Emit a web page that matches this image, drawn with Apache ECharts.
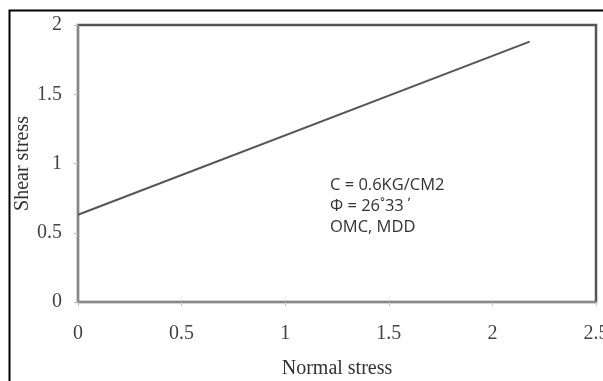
<!DOCTYPE html>
<html><head><meta charset="utf-8">
<script src="https://cdn.jsdelivr.net/npm/echarts@6/dist/echarts.min.js"></script>
<style>html,body{margin:0;padding:0;background:#fff}#c{width:603px;height:381px}</style>
</head><body><div id="c"></div>
<script>
const normalStress = [0, 2.18];
const shearStress = [0.63, 1.88];
const xTicks = [0, 0.5, 1, 1.5, 2, 2.5];
const yTicks = [0, 0.5, 1, 1.5, 2];
const noteLines = ['C = 0.6KG/CM2', 'Φ = 26˚33΄', 'OMC, MDD'];

const chart = echarts.init(document.getElementById('c'), null, {renderer: 'canvas'});
const serif = '"Liberation Serif", "DejaVu Serif", serif';
chart.setOption({
  animation: false,
  backgroundColor: '#fff',
  grid: {left: 78, right: 7, top: 25, bottom: 79, show: true, borderColor: '#555', borderWidth: 2.5,
         outerBoundsMode: 'none', containLabel: false},
  xAxis: {
    type: 'value', min: xTicks[0], max: xTicks[xTicks.length-1], interval: 0.5,
    name: 'Normal stress', nameLocation: 'middle', nameGap: 57, nameMoveOverlap: false,
    nameTextStyle: {fontFamily: serif, fontSize: 20, color: '#333'},
    axisLine: {show: true, lineStyle: {color: '#888', width: 2}},
    axisTick: {show: true, length: 4, lineStyle: {color: '#bbb'}},
    axisLabel: {fontFamily: serif, fontSize: 20, color: '#444', margin: 22, showMaxLabel: true},
    splitLine: {show: false}
  },
  yAxis: {
    type: 'value', min: yTicks[0], max: yTicks[yTicks.length-1], interval: 0.5,
    name: 'Shear stress', nameLocation: 'middle', nameGap: 45, nameRotate: 90, nameMoveOverlap: false,
    nameTextStyle: {fontFamily: serif, fontSize: 20, color: '#333'},
    axisLine: {show: true, lineStyle: {color: '#888', width: 2}},
    axisTick: {show: true, length: 4, lineStyle: {color: '#bbb'}},
    axisLabel: {fontFamily: serif, fontSize: 20, color: '#444', margin: 16},
    splitLine: {show: false}
  },
  series: [{
    type: 'line', data: normalStress.map((x, i) => [x, shearStress[i]]),
    symbol: 'none', lineStyle: {color: '#555', width: 2}
  }],
  graphic: [
    {type: 'rect', shape: {x: 9.5, y: 10.5, width: 620, height: 400}, style: {fill: 'none', stroke: '#000', lineWidth: 2}, z: 100},
    {type: 'text', left: 330, top: 175, style: {text: noteLines.join('\n'), font: '16.5px "Open Sans", "Noto Sans", sans-serif', fill: '#333', lineHeight: 21}}
  ]
});
</script></body></html>
